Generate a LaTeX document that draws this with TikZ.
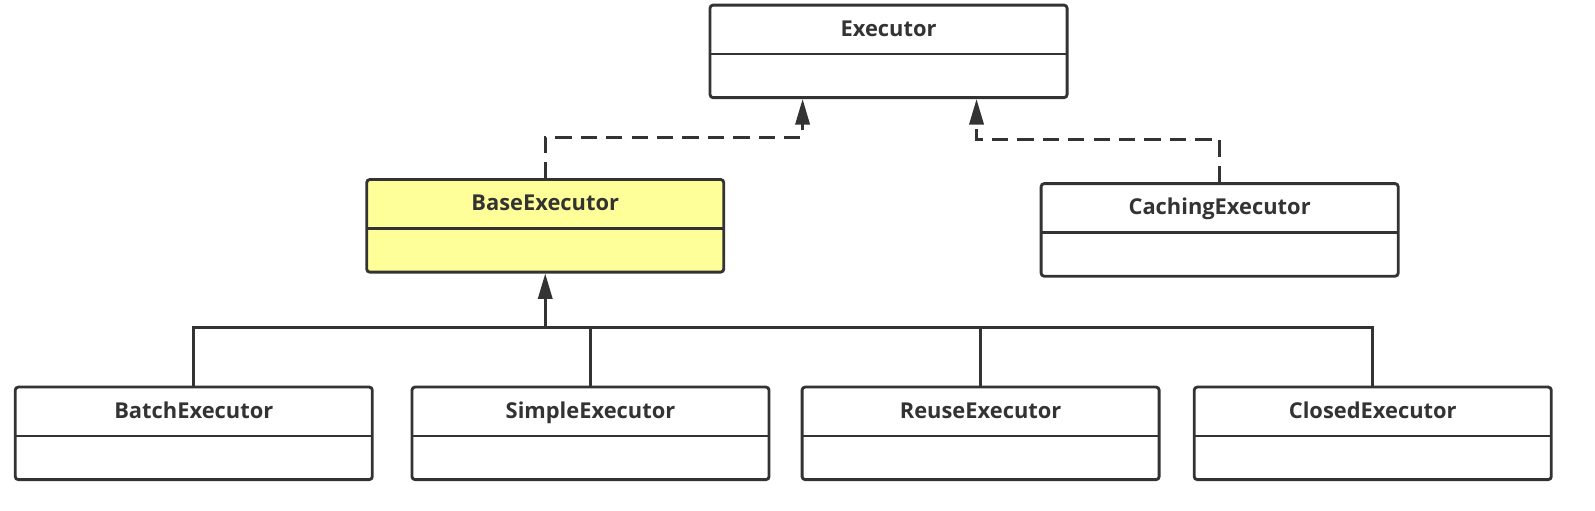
\documentclass[tikz,border=0pt]{standalone}
\usepackage{fontspec}
\setmainfont{Open Sans}
\usetikzlibrary{arrows.meta}
\definecolor{ink}{HTML}{333333}
\definecolor{classyellow}{HTML}{FFFF99}
\tikzset{
	cls/.style={draw=ink, line width=2.8pt, rounded corners=3pt, fill=white,
		minimum width=351pt, minimum height=91pt, inner sep=0pt,
		text=ink, font=\bfseries\fontsize{21.5}{24}\selectfont,
		text height=14pt, text depth=44pt,
		path picture={\draw[ink, line width=2.6pt]
			([yshift=-48pt]path picture bounding box.north west) --
			([yshift=-48pt]path picture bounding box.north east);}},
	link/.style={draw=ink, line width=2.7pt},
	realize/.style={link, dash pattern=on 16pt off 9pt, -{Triangle[length=25pt, width=14pt]}},
	inherit/.style={link, -{Triangle[length=25pt, width=14pt]}}
}
\begin{document}
\begin{tikzpicture}[x=1pt, y=-1pt]
		%%%%% START %%%%%
		\useasboundingbox (0, 0) rectangle (1568, 501.4);
		
		\node[cls] (executor) at (873.5, 50.5) {Executor};
		\node[cls, fill=classyellow] (base) at (536, 222) {BaseExecutor};
		\node[cls] (caching) at (1199, 226) {CachingExecutor};
		
		\node[cls] (batch) at (190.5, 426) {BatchExecutor};
		\node[cls] (simple) at (580.5, 426) {SimpleExecutor};
		\node[cls] (reuse) at (964, 426) {ReuseExecutor};
		\node[cls] (closed) at (1349.5, 426) {ClosedExecutor};
		
		% interfaces
		\coordinate (baseturn) at (789, 135);
		\coordinate (cacheturn) at (960, 137);
		\draw[realize] (base.north) |- (baseturn) -- (baseturn |- executor.south);
		\draw[realize] (caching.north) |- (cacheturn) -- (cacheturn |- executor.south);
		
		% subclasses
		\coordinate (bus) at (536, 322);
		\draw[link] (batch.north) |- (bus) -| (closed.north);
		\draw[link] (simple.north) -- (simple.north |- bus);
		\draw[link] (reuse.north) -- (reuse.north |- bus);
		\draw[inherit] (bus) -- (base.south);
		%%%%% END %%%%%
\end{tikzpicture}
\end{document}
